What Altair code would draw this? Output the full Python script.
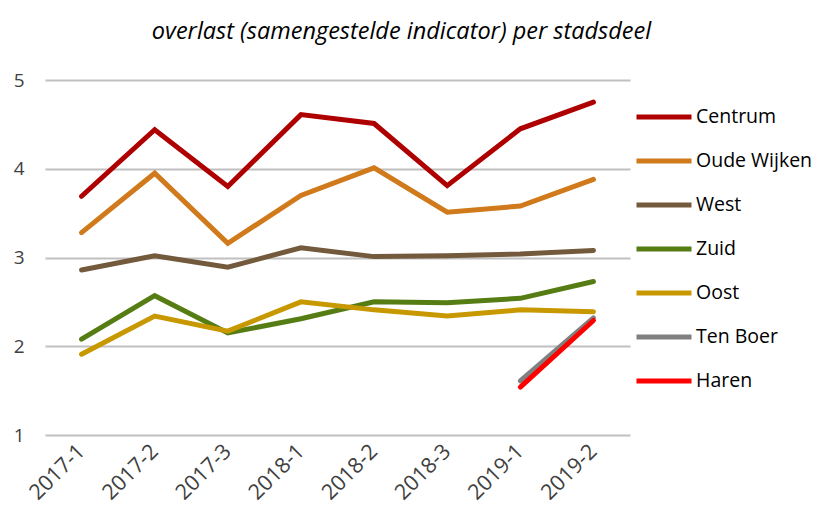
import altair as alt
import pandas as pd

periods = ["2017-1", "2017-2", "2017-3", "2018-1", "2018-2", "2018-3", "2019-1", "2019-2"]
series_names = ["Centrum", "Oude Wijken", "West", "Zuid", "Oost", "Ten Boer", "Haren"]
colors = ["#AE0000", "#D07A1C", "#735A3C", "#567D14", "#C89800", "#808080", "#FF0000"]

centrum = [3.69, 4.44, 3.80, 4.61, 4.51, 3.81, 4.45, 4.75]
oude_wijken = [3.28, 3.95, 3.16, 3.70, 4.01, 3.51, 3.58, 3.88]
west = [2.86, 3.02, 2.89, 3.11, 3.01, 3.02, 3.04, 3.08]
zuid = [2.08, 2.57, 2.15, 2.31, 2.50, 2.49, 2.54, 2.73]
oost = [1.91, 2.34, 2.17, 2.50, 2.41, 2.34, 2.41, 2.39]
ten_boer = [None, None, None, None, None, None, 1.61, 2.32]
haren = [None, None, None, None, None, None, 1.54, 2.29]

values = [centrum, oude_wijken, west, zuid, oost, ten_boer, haren]

rows = []
for name, vals in zip(series_names, values):
    for p, v in zip(periods, vals):
        if v is not None:
            rows.append({"periode": p, "stadsdeel": name, "waarde": v})
df = pd.DataFrame(rows)

font = "Open Sans"

chart = alt.Chart(df).mark_line(strokeWidth=5, strokeCap="round", strokeJoin="miter").encode(
    x=alt.X("periode:N", sort=periods, title=None,
            scale=alt.Scale(type="point", padding=0.5),
            axis=alt.Axis(labelAngle=-45, labelAlign="right", labelBaseline="middle",
                          labelFontSize=21.5, labelColor="#404040", labelFont=font,
                          ticks=False, domain=False, labelPadding=13, grid=False)),
    y=alt.Y("waarde:Q", title=None,
            scale=alt.Scale(domain=[1, 5], nice=False, zero=False),
            axis=alt.Axis(values=[1, 2, 3, 4, 5], labelFontSize=19, labelColor="#404040",
                          labelFont=font, ticks=False, domain=False, labelPadding=21,
                          gridColor="#C0C0C0", gridWidth=2)),
    color=alt.Color("stadsdeel:N", sort=series_names,
                    scale=alt.Scale(domain=series_names, range=colors),
                    legend=alt.Legend(title=None, orient="none", legendX=589, legendY=7,
                                      symbolType="stroke", symbolSize=3025, symbolStrokeWidth=5,
                                      labelFontSize=19.5, labelFont=font, labelColor="#000000",
                                      rowPadding=4, labelOffset=2)),
).properties(
    width=585, height=355,
    title=alt.TitleParams("overlast (samengestelde indicator) per stadsdeel",
                          fontSize=23.5, fontStyle="italic", fontWeight="normal",
                          font=font, color="#000000", anchor="middle", dx=64, offset=28),
    autosize=alt.AutoSizeParams(type="none"),
    padding={"left": 37, "top": 72, "right": 182, "bottom": 71},
).configure_view(stroke=None)

chart.save("out.html", embed_options={"renderer": "svg", "actions": False})
